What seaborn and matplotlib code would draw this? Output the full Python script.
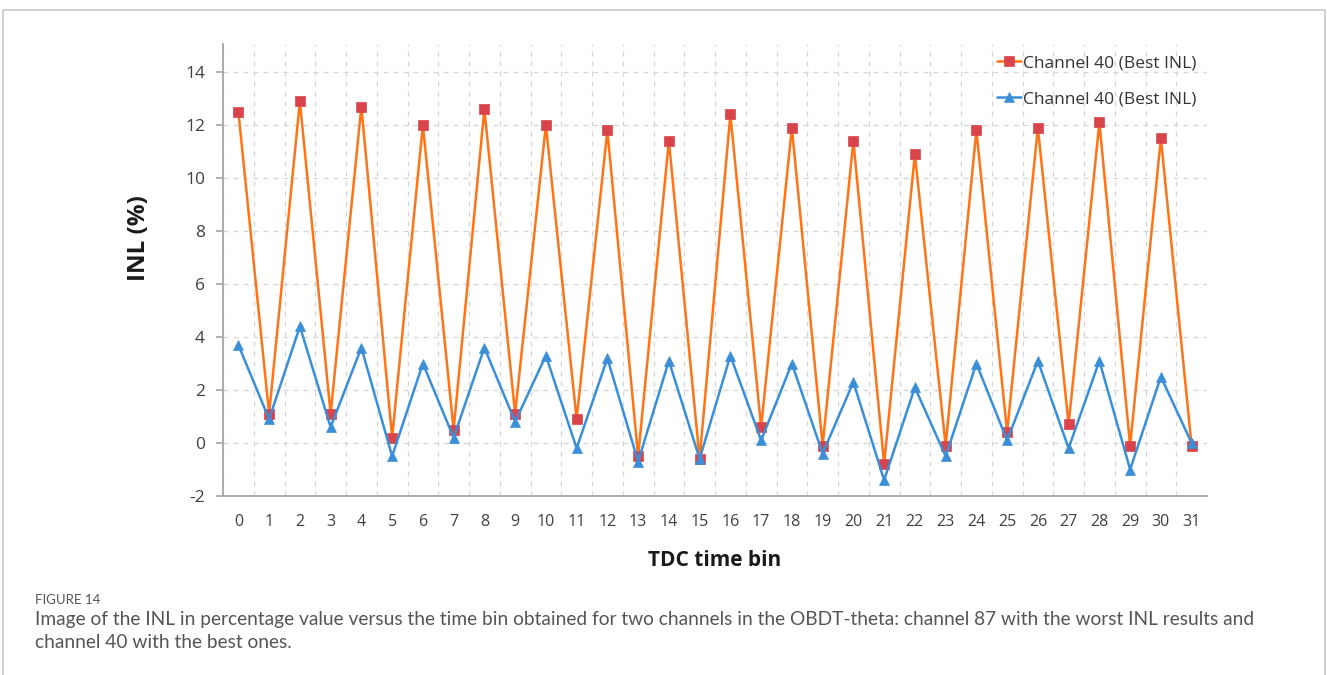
import numpy as np
import pandas as pd
import matplotlib
matplotlib.use("Agg")
import matplotlib.pyplot as plt
import seaborn as sns
from matplotlib.patches import Rectangle
from matplotlib.ticker import FixedLocator

# ---- data ----
time_bins = list(range(32))
inl_orange = [12.5, 1.1, 12.9, 1.1, 12.7, 0.2, 12.0, 0.5, 12.6, 1.1,
              12.0, 0.9, 11.8, -0.5, 11.4, -0.6, 12.4, 0.6, 11.9, -0.1,
              11.4, -0.8, 10.9, -0.1, 11.8, 0.4, 11.9, 0.7, 12.1, -0.1,
              11.5, -0.1]
inl_blue = [3.7, 0.9, 4.4, 0.6, 3.6, -0.5, 3.0, 0.2, 3.6, 0.8,
            3.3, -0.2, 3.2, -0.7, 3.1, -0.6, 3.3, 0.1, 3.0, -0.4,
            2.3, -1.4, 2.1, -0.5, 3.0, 0.1, 3.1, -0.2, 3.1, -1.0,
            2.5, 0.0]
legend_labels = ["Channel 40 (Best INL)", "Channel 40 (Best INL)"]
y_ticks = [-2, 0, 2, 4, 6, 8, 10, 12, 14]
x_label = "TDC time bin"
y_label = "INL (%)"
caption_title = "FIGURE 14"
caption_lines = [
    "Image of the INL in percentage value versus the time bin obtained for two channels in the OBDT-theta: channel 87 with the worst INL results and",
    "channel 40 with the best ones.",
]

df = pd.DataFrame({"bin": time_bins, "orange": inl_orange, "blue": inl_blue})

sns.set_theme(style="white")
plt.rcParams['font.family'] = ['Open Sans', 'DejaVu Sans']
plt.rcParams['axes.unicode_minus'] = False

W, H = 1327, 675
fig = plt.figure(figsize=(W / 100, H / 100), dpi=100)

# outer light frame
fig.patches.append(Rectangle((3 / W, -0.1), (1325 - 3) / W, 1 - 10 / H + 0.1,
                             transform=fig.transFigure, fill=False,
                             edgecolor="#C8C8C8", linewidth=1.2, zorder=0))

ax = fig.add_axes([223 / W, 1 - 496 / H, (1207 - 223) / W, (496 - 44) / H])

orange_line = "#FF7417"
orange_mark = "#D9434A"
blue_line = "#3A8FD8"

sns.lineplot(data=df, x="bin", y="orange", ax=ax, color=orange_line,
             linewidth=1.8, marker="s", markersize=7,
             markerfacecolor=orange_mark, markeredgecolor=orange_mark,
             markeredgewidth=0.5, label=legend_labels[0], zorder=3)
sns.lineplot(data=df, x="bin", y="blue", ax=ax, color=blue_line,
             linewidth=1.8, marker="^", markersize=7,
             markerfacecolor=blue_line, markeredgecolor=blue_line,
             markeredgewidth=0.5, label=legend_labels[1], zorder=4)

ax.set_xlim(-0.5, 31.5)
ax.set_ylim(-2, 15.06)
ax.set_xticks(time_bins)
ax.set_xticklabels([str(b) for b in time_bins])
ax.xaxis.set_minor_locator(FixedLocator(np.arange(-0.5, 32, 1.0)))
ax.set_yticks(y_ticks)
ax.set_yticklabels([str(t) for t in y_ticks])

ax.grid(False)
ax.xaxis.grid(True, which="minor", linestyle=(0, (4, 4)), color="#D5D5D5", linewidth=0.9)
ax.yaxis.grid(True, which="major", linestyle=(0, (4, 4)), color="#D5D5D5", linewidth=0.9)
ax.set_axisbelow(True)

for s in ["top", "right"]:
    ax.spines[s].set_visible(False)
for s in ["left", "bottom"]:
    ax.spines[s].set_color("#A6A6A6")
    ax.spines[s].set_linewidth(1.3)

ax.tick_params(axis="x", which="both", length=0, pad=13, labelsize=11.5, labelcolor="#404040")
ax.tick_params(axis="y", which="major", length=5, width=1.2, color="#A6A6A6",
               direction="out", left=True, pad=8, labelsize=12.5, labelcolor="#404040")

ax.set_xlabel(x_label, fontsize=15, fontweight="bold", color="#1a1a1a", labelpad=14)
ax.set_ylabel(y_label, fontsize=17.5, fontweight="bold", color="#1a1a1a")
ax.yaxis.set_label_coords((151 - 223) / (1207 - 223), (496 - 238) / (496 - 44))

leg = ax.legend(loc="upper left", bbox_to_anchor=(997 / W, 1 - 55 / H),
                bbox_transform=fig.transFigure, frameon=False, fontsize=12.5,
                handlelength=1.4, handletextpad=0.1, labelspacing=1.15,
                borderpad=0, borderaxespad=0)
for t in leg.get_texts():
    t.set_color("#333333")

fig.text(35 / W, 1 - 600 / H, caption_title, fontsize=9.5, color="#555555",
         va="center", ha="left", family=["Lato", "DejaVu Sans"])
for i, line in enumerate(caption_lines):
    fig.text(35 / W, 1 - (620 + 23 * i) / H, line, fontsize=13.75, color="#555555",
             va="center", ha="left", family=["Lato", "DejaVu Sans"])

fig.savefig("out.png", dpi=100)
